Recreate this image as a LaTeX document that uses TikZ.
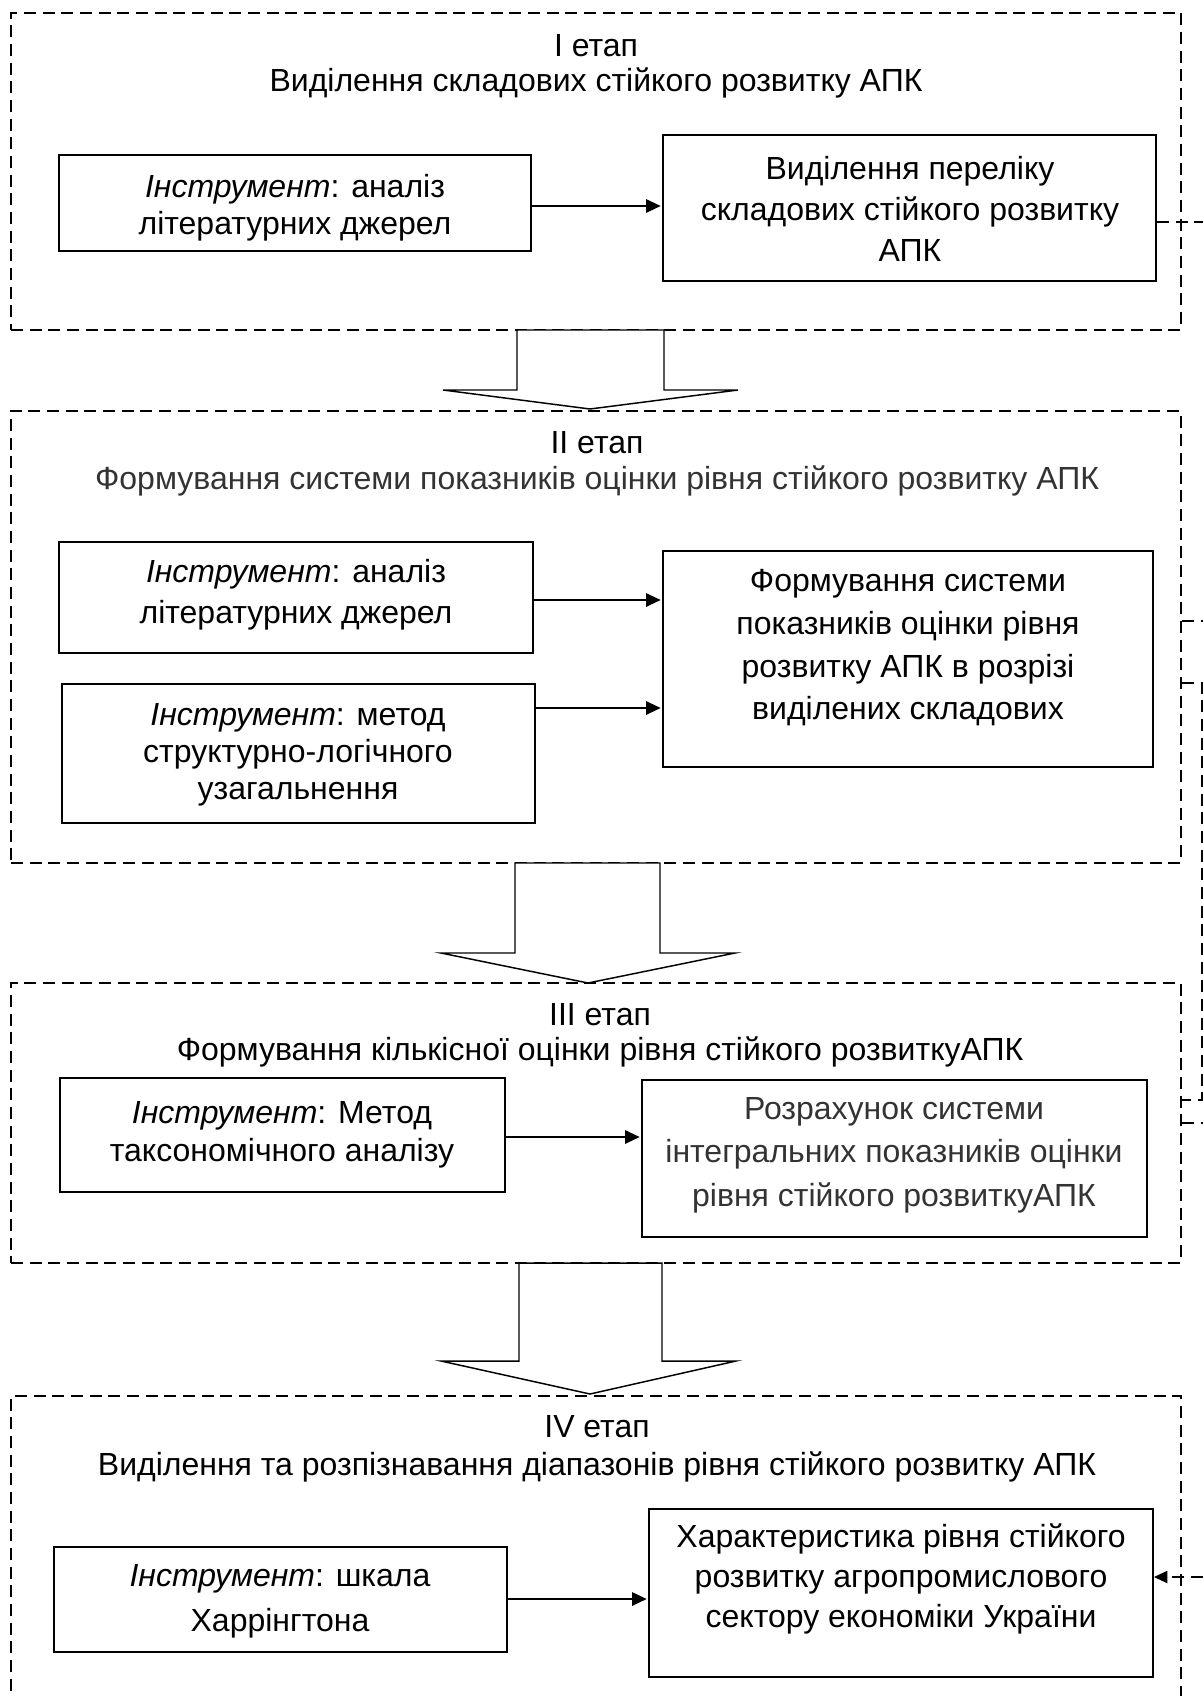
\documentclass[tikz,border=0pt]{standalone}
\usepackage{fontspec}
\setmainfont{Liberation Sans}
\usetikzlibrary{arrows.meta}
\tikzset{
 frame/.style={draw, dash pattern=on 9pt off 5pt, line width=1.4pt, inner sep=0pt, rectangle},
 bx/.style={draw, line width=1.4pt, inner sep=0pt, rectangle},
 txt/.style={align=center, inner sep=0pt, font=\fontsize{24}{#1}\selectfont},
 txt/.default=28pt,
 arr/.style={line width=1.5pt, -{Triangle[length=11pt,width=10pt]}, shorten >=1pt},
 dcon/.style={line width=1.4pt, dash pattern=on 9pt off 5pt},
 blk/.style={draw, fill=white, line width=1.1pt, line join=miter},
}
\newcommand\myrect[6]{\node[#6, minimum width={(#4-#2)*0.75pt}, minimum height={(#5-#3)*0.75pt}] (#1) at ({(#2+#4)/2},{(#3+#5)/2}) {};}
\begin{document}
\begin{tikzpicture}[x=0.75pt,y=-0.75pt]
\clip (0,0) rectangle (1203,1696);
\fill[white] (0,0) rectangle (1203,1696);
% stage frames
\myrect{f1}{11}{13}{1181}{330}{frame}
\myrect{f2}{11}{411}{1181}{863}{frame}
\myrect{f3}{11}{983}{1181}{1263}{frame}
\myrect{f4}{11}{1396}{1181}{1760}{frame}
% titles
\node[txt=26.25pt] (h1) at (596,66) {I етап\\Виділення складових стійкого розвитку АПК};
\node[txt=27pt] (h2) at (597,464) {II етап\\\textcolor{black!80}{Формування системи показників оцінки рівня стійкого розвитку АПК}};
\node[txt=26.25pt] (h3) at (600,1035) {III етап\\Формування кількісної оцінки рівня стійкого розвиткуАПК};
\node[txt=28.5pt] (h4) at (597,1449) {IV етап\\Виділення та розпізнавання діапазонів рівня стійкого розвитку АПК};
% boxes
\myrect{b1l}{59}{155}{531}{251}{bx}
\node[txt=27.75pt] (t1l) at (295,208) {\textit{Інструмент}: аналіз\\літературних джерел};
\myrect{b1r}{663}{135}{1156}{281}{bx}
\node[txt=30.75pt] (t1r) at (910,209) {Виділення переліку\\складових стійкого розвитку\\АПК};
\myrect{b2a}{59}{542}{533}{653}{bx}
\node[txt=30.75pt] (t2a) at (296,595) {\textit{Інструмент}: аналіз\\літературних джерел};
\myrect{b2b}{62}{684}{535}{823}{bx}
\node[txt=27.75pt] (t2b) at (298,755) {\textit{Інструмент}: метод\\структурно-логічного\\узагальнення};
\myrect{b2r}{663}{551}{1153}{767}{bx}
\node[txt=32pt] (t2r) at (908,648) {Формування системи\\показників оцінки рівня\\розвитку АПК в розрізі\\виділених складових};
\myrect{b3l}{60}{1078}{505}{1192}{bx}
\node[txt=28.5pt] (t3l) at (282,1135) {\textit{Інструмент}: Метод\\таксономічного аналізу};
\myrect{b3r}{642}{1080}{1147}{1237}{bx}
\node[txt=32.6pt, text=black!80] (t3r) at (894,1155) {Розрахунок системи\\інтегральних показників оцінки\\рівня стійкого розвиткуАПК};
\myrect{b4l}{54}{1547}{507}{1652}{bx}
\node[txt=33.75pt] (t4l) at (280,1601) {\textit{Інструмент}: шкала\\Харрінгтона};
\myrect{b4r}{649}{1509}{1153}{1677}{bx}
\node[txt=30pt] (t4r) at (901,1579) {Характеристика рівня стійкого\\розвитку агропромислового\\сектору економіки України};
% arrows inside stages
\draw[arr] (b1l.east |- 0,206) -- (b1r.west |- 0,206);
\draw[arr] (b2a.east |- 0,600) -- (b2r.west |- 0,600);
\draw[arr] (b2b.east |- 0,708) -- (b2r.west |- 0,708);
\draw[arr] (b3l.east |- 0,1137) -- (b3r.west |- 0,1137);
\draw[arr] (b4l.east |- 0,1599) -- (b4r.west |- 0,1599);
% block arrows between stages
\draw[blk] (517,330) -- (517,390) -- (443,390) -- (590,409) -- (738,390) -- (664,390) -- (664,330) -- cycle;
\draw[blk] (515,863) -- (515,953) -- (441,953) -- (588,983) -- (735,953) -- (660,953) -- (660,863) -- cycle;
\draw[blk] (519,1263) -- (519,1361) -- (441,1361) -- (590,1394) -- (736,1361) -- (662,1361) -- (662,1263) -- cycle;
% dashed connectors at the right edge
\coordinate (e1) at (1203,222);
\draw[dcon] (b1r.east |- e1) -- (e1);
\coordinate (e2) at (1203,621);
\draw[dcon] (f2.east |- e2) -- (e2);
\coordinate (k1) at (1202,683);
\coordinate (k2) at (1202,1100);
\draw[dcon] (f2.east |- k1) -- (k1) -- (k2) -- (f3.east |- k2);
\coordinate (e3) at (1203,1123);
\draw[dcon] (f3.east |- e3) -- (e3);
\coordinate (e4) at (1203,1577);
\draw[dcon, -{Triangle[length=10pt,width=9pt]}] (e4) -- (b4r.east |- e4);
\end{tikzpicture}
\end{document}
